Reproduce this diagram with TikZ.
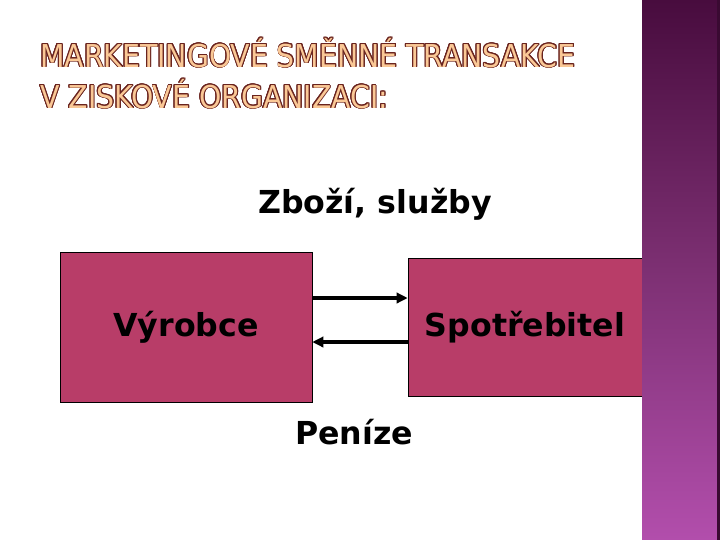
\documentclass[tikz,border=0pt]{standalone}
\usepackage{fontspec}
\setmainfont{DejaVu Sans}
\newfontfamily\titlefont{DejaVu Sans Condensed}
\usepackage{contour}
\contourlength{0.7pt}
\usetikzlibrary{positioning,arrows.meta}

\definecolor{boxred}{RGB}{184,61,104}
\definecolor{titlefill}{RGB}{250,200,150}
\definecolor{titleline}{RGB}{105,35,30}
\definecolor{bartop}{RGB}{72,12,62}
\definecolor{barmid}{RGB}{125,48,115}
\definecolor{barbot}{RGB}{178,78,172}

\newcommand{\ttl}[1]{\contour{titleline}{\textcolor{titlefill}{#1}}}

\begin{document}
\begin{tikzpicture}[
    party/.style={draw=black, fill=boxred, font=\bfseries\fontsize{22.5}{27}\selectfont},
    lbl/.style={font=\bfseries\fontsize{22.5}{27}\selectfont},
    ttlfont/.style={font=\titlefont\fontsize{22.4}{26}\selectfont, inner sep=0pt, anchor=base west},
    flow/.style={-{Triangle[length=2.8mm,width=2.6mm]}, line width=2.4pt}]
      \useasboundingbox (0,0) rectangle (18,-13.5);
      % Title
      \node[ttlfont] (title1) at (1.0,-1.675) {\ttl{MARKETINGOVÉ SMĚNNÉ TRANSAKCE}};
      \node[ttlfont] (title2) at (1.0,-2.7) {\ttl{V ZISKOVÉ ORGANIZACI:}};

      % Nodes
      \node[party, minimum width=6.3cm, minimum height=3.75cm] (vyrobce) at (4.65,-8.175) {Výrobce};
      \node[party, minimum width=5.85cm, minimum height=3.45cm] (spotrebitel) at (13.125,-8.175) {Spotřebitel};
      \node[lbl] (zbozi) at (9.375,-5.1) {Zboží, služby};
      \node[lbl] (penize) at (8.85,-10.8) {Peníze};

      % Arrows
      \draw[flow] ([yshift=7.25mm]vyrobce.east) -- ([yshift=7.25mm]spotrebitel.west);
      \draw[flow] ([yshift=-3.75mm]spotrebitel.west) -- ([yshift=-3.75mm]vyrobce.east);

      % Side bar
      \shade[top color=bartop, bottom color=barbot, middle color=barmid] (16.05,0) rectangle (18,-13.5);
      \fill[bartop!80!black] (17.93,0) rectangle (18,-13.5);
  \end{tikzpicture}
\end{document}
